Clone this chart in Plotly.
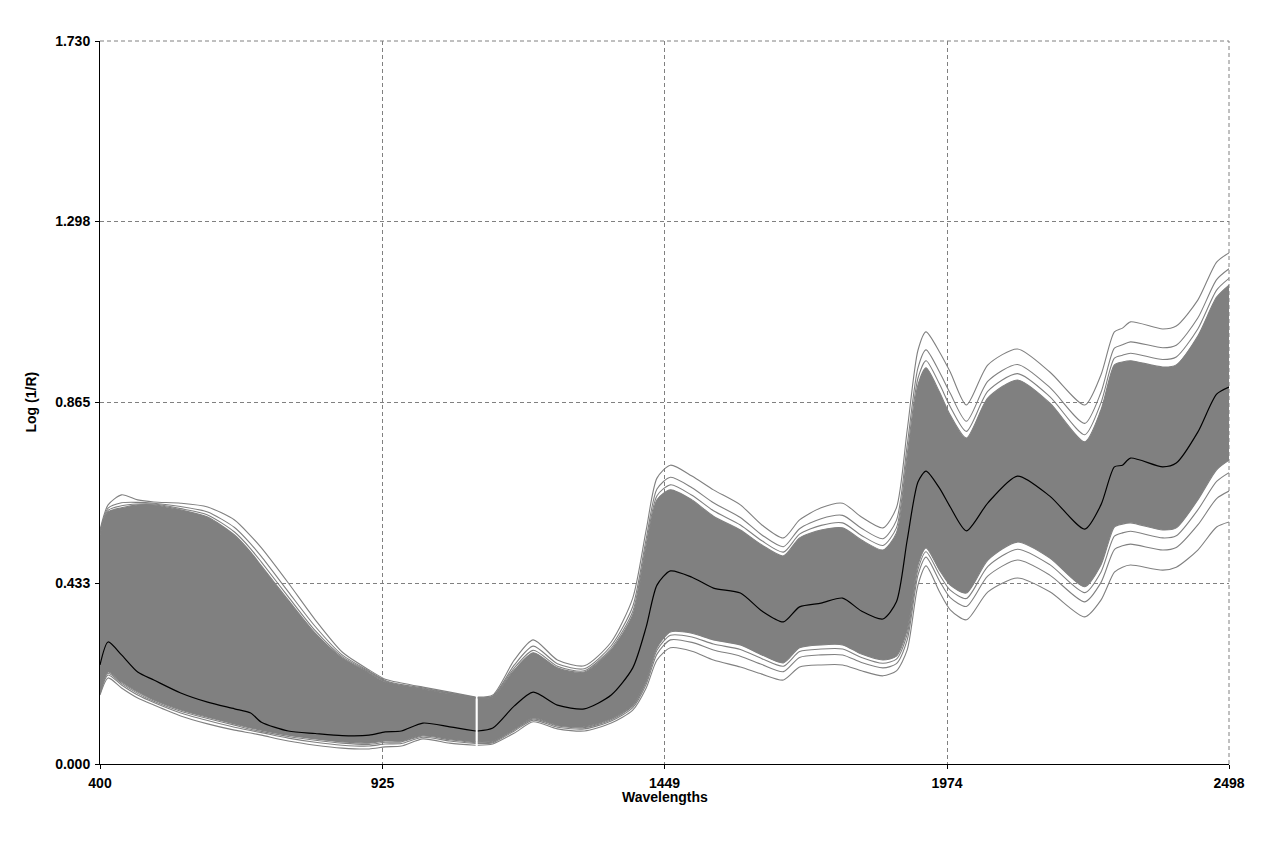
import plotly.graph_objects as go
import numpy as np

# ---------------- data ----------------
wavelengths = [400, 415, 440, 470, 500, 550, 600, 650, 680, 700, 750, 800, 850, 900,
               930, 960, 1000, 1050, 1098, 1102, 1130, 1170, 1205, 1250, 1300, 1350,
               1390, 1415, 1435, 1460, 1500, 1540, 1590, 1630, 1670, 1700, 1740, 1780,
               1815, 1855, 1880, 1900, 1920, 1935, 1960, 1980, 2010, 2050, 2105, 2165,
               2230, 2260, 2285, 2300, 2315, 2375, 2400, 2440, 2475, 2498]

mean_spectrum = [0.237, 0.292, 0.261, 0.220, 0.201, 0.170, 0.148, 0.132, 0.122, 0.100,
                 0.079, 0.073, 0.068, 0.069, 0.077, 0.079, 0.098, 0.089, 0.079, 0.079,
                 0.086, 0.139, 0.172, 0.141, 0.132, 0.165, 0.230, 0.328, 0.428, 0.462,
                 0.447, 0.421, 0.409, 0.366, 0.340, 0.376, 0.385, 0.397, 0.366, 0.347,
                 0.388, 0.536, 0.675, 0.701, 0.660, 0.615, 0.558, 0.625, 0.689, 0.641,
                 0.562, 0.620, 0.711, 0.715, 0.732, 0.711, 0.720, 0.794, 0.885, 0.902]

band_upper = [0.548, 0.603, 0.613, 0.620, 0.620, 0.608, 0.591, 0.548, 0.507, 0.474,
              0.392, 0.313, 0.254, 0.218, 0.196, 0.187, 0.179, 0.168, 0.158, 0.158,
              0.160, 0.225, 0.266, 0.230, 0.220, 0.273, 0.357, 0.517, 0.632, 0.656,
              0.632, 0.593, 0.560, 0.524, 0.498, 0.541, 0.560, 0.565, 0.536, 0.512,
              0.553, 0.727, 0.907, 0.948, 0.890, 0.835, 0.780, 0.876, 0.919, 0.864,
              0.771, 0.847, 0.955, 0.962, 0.965, 0.950, 0.955, 1.024, 1.117, 1.146]

band_lower = [0.172, 0.220, 0.196, 0.172, 0.153, 0.129, 0.112, 0.096, 0.086, 0.081,
              0.069, 0.060, 0.053, 0.050, 0.055, 0.055, 0.069, 0.060, 0.053, 0.053,
              0.055, 0.084, 0.110, 0.093, 0.089, 0.108, 0.141, 0.201, 0.278, 0.316,
              0.313, 0.297, 0.285, 0.261, 0.242, 0.278, 0.285, 0.285, 0.263, 0.249,
              0.258, 0.321, 0.476, 0.517, 0.464, 0.428, 0.409, 0.488, 0.531, 0.493,
              0.424, 0.476, 0.567, 0.574, 0.577, 0.560, 0.565, 0.632, 0.704, 0.727]

outer_upper_1 = [0.560, 0.620, 0.644, 0.632, 0.627, 0.624, 0.615, 0.584, 0.546, 0.517,
                 0.433, 0.345, 0.268, 0.225, 0.203, 0.194, 0.184, 0.172, 0.160, 0.160,
                 0.165, 0.249, 0.297, 0.249, 0.235, 0.292, 0.397, 0.560, 0.684, 0.715,
                 0.689, 0.656, 0.620, 0.572, 0.541, 0.584, 0.613, 0.624, 0.591, 0.565,
                 0.613, 0.799, 0.990, 1.034, 0.986, 0.938, 0.859, 0.955, 0.993, 0.938,
                 0.859, 0.931, 1.034, 1.043, 1.058, 1.041, 1.048, 1.110, 1.201, 1.223]

outer_upper_2 = [0.555, 0.612, 0.625, 0.626, 0.624, 0.616, 0.603, 0.566, 0.527, 0.496,
                 0.412, 0.329, 0.261, 0.222, 0.200, 0.190, 0.182, 0.170, 0.159, 0.159,
                 0.162, 0.237, 0.282, 0.240, 0.228, 0.283, 0.377, 0.539, 0.658, 0.686,
                 0.661, 0.625, 0.590, 0.548, 0.520, 0.563, 0.587, 0.595, 0.564, 0.539,
                 0.583, 0.763, 0.948, 0.991, 0.938, 0.887, 0.820, 0.916, 0.956, 0.901,
                 0.815, 0.889, 0.995, 1.003, 1.010, 0.996, 1.002, 1.067, 1.159, 1.185]

outer_upper_3 = [0.551, 0.607, 0.618, 0.622, 0.622, 0.611, 0.596, 0.555, 0.515, 0.483,
                 0.400, 0.319, 0.257, 0.220, 0.198, 0.188, 0.180, 0.169, 0.158, 0.158,
                 0.161, 0.230, 0.272, 0.234, 0.223, 0.277, 0.365, 0.526, 0.642, 0.668,
                 0.643, 0.606, 0.572, 0.534, 0.507, 0.550, 0.571, 0.577, 0.547, 0.523,
                 0.565, 0.741, 0.923, 0.965, 0.909, 0.855, 0.796, 0.892, 0.934, 0.879,
                 0.788, 0.864, 0.971, 0.978, 0.983, 0.968, 0.974, 1.041, 1.134, 1.162]

outer_lower_1 = [0.165, 0.206, 0.182, 0.158, 0.141, 0.115, 0.096, 0.081, 0.074, 0.069,
                 0.055, 0.045, 0.038, 0.036, 0.041, 0.043, 0.060, 0.050, 0.045, 0.045,
                 0.048, 0.074, 0.101, 0.084, 0.079, 0.098, 0.129, 0.182, 0.249, 0.278,
                 0.270, 0.249, 0.232, 0.215, 0.201, 0.232, 0.237, 0.237, 0.223, 0.211,
                 0.223, 0.273, 0.428, 0.474, 0.412, 0.369, 0.345, 0.412, 0.445, 0.412,
                 0.352, 0.392, 0.459, 0.471, 0.476, 0.464, 0.471, 0.512, 0.567, 0.579]

outer_lower_2 = [0.168, 0.213, 0.189, 0.165, 0.147, 0.122, 0.104, 0.088, 0.080, 0.075,
                 0.062, 0.052, 0.045, 0.043, 0.048, 0.049, 0.064, 0.055, 0.049, 0.049,
                 0.051, 0.079, 0.105, 0.088, 0.084, 0.103, 0.135, 0.191, 0.263, 0.297,
                 0.291, 0.273, 0.258, 0.238, 0.221, 0.255, 0.261, 0.261, 0.243, 0.230,
                 0.240, 0.297, 0.452, 0.495, 0.438, 0.398, 0.377, 0.450, 0.488, 0.452,
                 0.388, 0.434, 0.513, 0.522, 0.526, 0.512, 0.518, 0.572, 0.635, 0.653]

outer_lower_3 = [0.170, 0.217, 0.193, 0.169, 0.150, 0.126, 0.109, 0.093, 0.083, 0.078,
                 0.066, 0.057, 0.050, 0.047, 0.052, 0.053, 0.067, 0.058, 0.051, 0.051,
                 0.053, 0.082, 0.108, 0.091, 0.087, 0.106, 0.139, 0.197, 0.272, 0.308,
                 0.304, 0.287, 0.274, 0.252, 0.234, 0.269, 0.275, 0.275, 0.255, 0.241,
                 0.251, 0.311, 0.466, 0.508, 0.453, 0.416, 0.396, 0.473, 0.514, 0.477,
                 0.410, 0.459, 0.545, 0.553, 0.557, 0.541, 0.546, 0.608, 0.676, 0.697]

detector_gap = 1100
x_tick_values = [400, 925, 1449, 1974, 2498]
x_tick_labels = ["400", "925", "1449", "1974", "2498"]
y_tick_values = [0.0, 0.433, 0.865, 1.298, 1.730]
y_tick_labels = ["0.000", "0.433", "0.865", "1.298", "1.730"]
x_range = [400, 2498]
y_range = [0.0, 1.730]

# ---------------- figure ----------------
GRAY = "#808080"
wl = np.array(wavelengths)
segments = [wl < detector_gap, wl > detector_gap]

fig = go.Figure()
line_kw = dict(shape="spline", smoothing=0.7)
outer_series = (outer_upper_1, outer_upper_2, outer_upper_3,
                outer_lower_1, outer_lower_2, outer_lower_3)

for seg in segments:
    x = wl[seg]
    fig.add_trace(go.Scatter(x=x, y=np.array(band_lower)[seg], mode="lines",
                             line=dict(color=GRAY, width=1.1, **line_kw),
                             hoverinfo="skip", showlegend=False))
    fig.add_trace(go.Scatter(x=x, y=np.array(band_upper)[seg], mode="lines",
                             line=dict(color=GRAY, width=1.1, **line_kw),
                             fill="tonexty", fillcolor=GRAY,
                             hoverinfo="skip", showlegend=False))
    for series in outer_series:
        fig.add_trace(go.Scatter(x=x, y=np.array(series)[seg], mode="lines",
                                 line=dict(color=GRAY, width=1.1, **line_kw),
                                 hoverinfo="skip", showlegend=False))
    fig.add_trace(go.Scatter(x=x, y=np.array(mean_spectrum)[seg], mode="lines",
                             line=dict(color="black", width=1.2, **line_kw),
                             hoverinfo="skip", showlegend=False))

tick_font = dict(family="Liberation Sans, Arial, sans-serif", size=14,
                 color="black", weight="bold")

fig.update_xaxes(range=x_range, tickmode="array", tickvals=x_tick_values,
                 ticktext=x_tick_labels, showgrid=True, gridcolor=GRAY,
                 griddash="4px,3px", gridwidth=1, showline=True, linecolor="black",
                 linewidth=1, ticks="outside", ticklen=4, tickcolor="black",
                 tickfont=tick_font, zeroline=False, ticklabelstandoff=2)
fig.update_yaxes(range=y_range, tickmode="array", tickvals=y_tick_values,
                 ticktext=y_tick_labels, showgrid=True, gridcolor=GRAY,
                 griddash="4px,3px", gridwidth=1, showline=True, linecolor="black",
                 linewidth=1, ticks="outside", ticklen=4, tickcolor="black",
                 tickfont=tick_font, zeroline=False, ticklabelstandoff=2)

# dashed frame on top and right (like the grid)
fig.add_shape(type="line", xref="paper", yref="paper", x0=0, x1=1, y0=1, y1=1,
              line=dict(color=GRAY, width=1, dash="4px,3px"))
fig.add_shape(type="line", xref="paper", yref="paper", x0=1, x1=1, y0=0, y1=1,
              line=dict(color=GRAY, width=1, dash="4px,3px"))

title_font = dict(family="Liberation Sans, Arial, sans-serif", size=14,
                  color="black", weight="bold")
fig.add_annotation(text="Wavelengths", xref="paper", yref="paper", x=0.5, y=0,
                   yshift=-33, yanchor="middle", showarrow=False, font=title_font)
fig.add_annotation(text="Log (1/R)", xref="paper", yref="paper", x=0, y=0.5,
                   xshift=-70, xanchor="center", textangle=-90, showarrow=False,
                   font=title_font)

fig.update_layout(width=1280, height=859, margin=dict(l=100, r=51, t=41, b=95),
                  paper_bgcolor="white", plot_bgcolor="white", showlegend=False)

fig.write_html("out.html")
